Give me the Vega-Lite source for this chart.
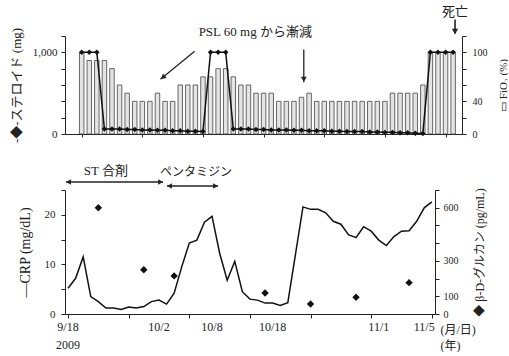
{
  "$schema": "https://vega.github.io/schema/vega-lite/v6.json",
  "padding": {"left": 10, "top": 5, "right": 0, "bottom": 0},
  "bounds": "flush",
  "spacing": 56,
  "config": {
    "view": {"stroke": null},
    "font": "Liberation Serif",
    "axis": {"grid": false, "domainColor": "#222", "tickColor": "#222", "labelColor": "#222", "titleColor": "#222", "titleFontWeight": "normal", "labelFont": "Liberation Serif", "titleFont": "Liberation Serif, Noto Sans CJK JP", "tickSize": 4, "labelOverlap": false, "labelBound": false, "labelFlush": false}
  },
  "datasets": {
    "top": [
      {"i": 0, "fio2": 100, "steroid": 1000}, {"i": 1, "fio2": 90, "steroid": 1000}, {"i": 2, "fio2": 90, "steroid": 1000},
      {"i": 3, "fio2": 90, "steroid": 60}, {"i": 4, "fio2": 80, "steroid": 60}, {"i": 5, "fio2": 60, "steroid": 60},
      {"i": 6, "fio2": 50, "steroid": 55}, {"i": 7, "fio2": 40, "steroid": 55}, {"i": 8, "fio2": 40, "steroid": 50},
      {"i": 9, "fio2": 40, "steroid": 50}, {"i": 10, "fio2": 50, "steroid": 45}, {"i": 11, "fio2": 40, "steroid": 45},
      {"i": 12, "fio2": 40, "steroid": 40}, {"i": 13, "fio2": 60, "steroid": 40}, {"i": 14, "fio2": 60, "steroid": 35},
      {"i": 15, "fio2": 60, "steroid": 35}, {"i": 16, "fio2": 70, "steroid": 30}, {"i": 17, "fio2": 70, "steroid": 1000},
      {"i": 18, "fio2": 80, "steroid": 1000}, {"i": 19, "fio2": 80, "steroid": 1000}, {"i": 20, "fio2": 70, "steroid": 60},
      {"i": 21, "fio2": 60, "steroid": 60}, {"i": 22, "fio2": 60, "steroid": 60}, {"i": 23, "fio2": 50, "steroid": 55},
      {"i": 24, "fio2": 50, "steroid": 55}, {"i": 25, "fio2": 50, "steroid": 50}, {"i": 26, "fio2": 40, "steroid": 50},
      {"i": 27, "fio2": 40, "steroid": 50}, {"i": 28, "fio2": 40, "steroid": 45}, {"i": 29, "fio2": 45, "steroid": 45},
      {"i": 30, "fio2": 50, "steroid": 40}, {"i": 31, "fio2": 40, "steroid": 40}, {"i": 32, "fio2": 40, "steroid": 40},
      {"i": 33, "fio2": 40, "steroid": 35}, {"i": 34, "fio2": 40, "steroid": 35}, {"i": 35, "fio2": 40, "steroid": 30},
      {"i": 36, "fio2": 40, "steroid": 30}, {"i": 37, "fio2": 40, "steroid": 30}, {"i": 38, "fio2": 40, "steroid": 25},
      {"i": 39, "fio2": 40, "steroid": 25}, {"i": 40, "fio2": 40, "steroid": 20}, {"i": 41, "fio2": 50, "steroid": 20},
      {"i": 42, "fio2": 50, "steroid": 15}, {"i": 43, "fio2": 50, "steroid": 15}, {"i": 44, "fio2": 50, "steroid": 10},
      {"i": 45, "fio2": 60, "steroid": 5}, {"i": 46, "fio2": 100, "steroid": 1000}, {"i": 47, "fio2": 100, "steroid": 1000},
      {"i": 48, "fio2": 100, "steroid": 1000}, {"i": 49, "fio2": 100, "steroid": 1000}
    ],
    "crp": [
      {"day": 0, "crp": 5.2}, {"day": 1, "crp": 7.2}, {"day": 2, "crp": 11.5}, {"day": 3, "crp": 3.5}, {"day": 4, "crp": 2.5},
      {"day": 5, "crp": 1.2}, {"day": 6, "crp": 1.2}, {"day": 7, "crp": 0.9}, {"day": 8, "crp": 1.4}, {"day": 9, "crp": 1.2},
      {"day": 10, "crp": 1.5}, {"day": 11, "crp": 2.5}, {"day": 12, "crp": 2.8}, {"day": 13, "crp": 2.0}, {"day": 14, "crp": 4.2},
      {"day": 15, "crp": 9.5}, {"day": 16, "crp": 14.3}, {"day": 17, "crp": 14.9}, {"day": 18, "crp": 18.5}, {"day": 19, "crp": 19.7},
      {"day": 20, "crp": 12.3}, {"day": 21, "crp": 6.8}, {"day": 22, "crp": 10.6}, {"day": 23, "crp": 4.5}, {"day": 24, "crp": 3.0},
      {"day": 25, "crp": 2.8}, {"day": 26, "crp": 2.2}, {"day": 27, "crp": 2.2}, {"day": 28, "crp": 1.7}, {"day": 29, "crp": 2.3},
      {"day": 31, "crp": 21.6}, {"day": 32, "crp": 21.1}, {"day": 33, "crp": 21.1}, {"day": 34, "crp": 20.4}, {"day": 35, "crp": 18.7},
      {"day": 36, "crp": 18.1}, {"day": 37, "crp": 16.0}, {"day": 38, "crp": 15.4}, {"day": 39, "crp": 17.6}, {"day": 40, "crp": 16.7},
      {"day": 41, "crp": 14.9}, {"day": 42, "crp": 13.8}, {"day": 43, "crp": 15.6}, {"day": 44, "crp": 16.7}, {"day": 45, "crp": 16.8},
      {"day": 46, "crp": 18.7}, {"day": 47, "crp": 21.4}, {"day": 48, "crp": 22.6}
    ],
    "bdg": [
      {"day": 4, "bdg": 600}, {"day": 10, "bdg": 250}, {"day": 14, "bdg": 215}, {"day": 26, "bdg": 119},
      {"day": 32, "bdg": 56}, {"day": 38, "bdg": 95}, {"day": 45, "bdg": 177}
    ],
    "dates": [
      {"day": 0, "date": "9/18"}, {"day": 12, "date": "10/2"}, {"day": 19, "date": "10/8"},
      {"day": 27, "date": "10/18"}, {"day": 41, "date": "11/1"}, {"day": 47, "date": "11/5"}
    ]
  },
  "vconcat": [
    {
      "width": 397,
      "height": 98,
      "data": {"name": "top"},
      "layer": [
        {
          "mark": {"type": "bar", "width": 4.5, "fill": "#e4e4e4", "stroke": "#444", "strokeWidth": 0.8},
          "encoding": {
            "x": {"field": "i", "type": "quantitative", "scale": {"domain": [-1.54, 49.51], "nice": false, "zero": false},
                  "axis": {"values": [0,1,2,3,4,5,6,7,8,9,10,11,12,13,14,15,16,17,18,19,20,21,22,23,24,25,26,27,28,29,30,31,32,33,34,35,36,37,38,39,40,41,42,43,44,45,46,47,48,49], "labels": false, "tickSize": 3, "title": null}},
            "y": {"field": "fio2", "type": "quantitative", "scale": {"domain": [0, 120], "nice": false},
                  "axis": {"orient": "right", "values": [0, 20, 40, 60, 80, 100, 120], "labelOverlap": false, "labelExpr": "datum.value==0||datum.value==40||datum.value==100 ? datum.label : ''", "labelFontSize": 10, "labelPadding": 6, "title": "▭ FiO₂ (%)", "titleAngle": -90, "titleBaseline": "top", "titleFontSize": 11, "titlePadding": 10}}
          }
        },
        {
          "mark": {"type": "line", "color": "#111", "strokeWidth": 1.5, "point": {"filled": true, "shape": "diamond", "size": 30, "color": "#111"}},
          "encoding": {
            "x": {"field": "i", "type": "quantitative", "scale": {"domain": [-1.54, 49.51], "nice": false, "zero": false}},
            "y": {"field": "steroid", "type": "quantitative", "scale": {"domain": [0, 1200], "nice": false},
                  "axis": {"orient": "left", "values": [0, 200, 400, 600, 800, 1000, 1200], "labelOverlap": false, "labelExpr": "datum.value==0 ? '0' : datum.value==1000 ? '1,000' : ''", "labelFontSize": 11, "labelPadding": 4, "title": "-◆-ステロイド (mg)", "titleFontSize": 13, "titlePadding": 9}}
          }
        },
        {
          "data": {"values": [{}]},
          "mark": {"type": "text", "text": "PSL 60 mg から漸減", "fontSize": 13, "font": "Liberation Serif, Noto Sans CJK JP", "color": "#222"},
          "encoding": {
            "x": {"datum": 22.9, "type": "quantitative", "scale": {"domain": [-1.54, 49.51], "nice": false, "zero": false}},
            "y": {"datum": 1245, "type": "quantitative", "scale": {"domain": [0, 1200], "nice": false}, "axis": null}
          }
        },
        {
          "data": {"values": [{}]},
          "mark": {"type": "rule", "color": "#222", "strokeWidth": 1.3},
          "encoding": {
            "x": {"datum": 14.9, "type": "quantitative", "scale": {"domain": [-1.54, 49.51], "nice": false, "zero": false}},
            "x2": {"datum": 10.4},
            "y": {"datum": 1012, "type": "quantitative", "scale": {"domain": [0, 1200], "nice": false}, "axis": null},
            "y2": {"datum": 670}
          }
        },
        {
          "data": {"values": [{}]},
          "mark": {"type": "point", "shape": "triangle-up", "filled": true, "size": 35, "angle": 231.3, "color": "#222", "opacity": 1},
          "encoding": {
            "x": {"datum": 10.71, "type": "quantitative", "scale": {"domain": [-1.54, 49.51], "nice": false, "zero": false}},
            "y": {"datum": 694, "type": "quantitative", "scale": {"domain": [0, 1200], "nice": false}, "axis": null}
          }
        },
        {
          "data": {"values": [{}]},
          "mark": {"type": "rule", "color": "#222", "strokeWidth": 1.3},
          "encoding": {
            "x": {"datum": 29.3, "type": "quantitative", "scale": {"domain": [-1.54, 49.51], "nice": false, "zero": false}},
            "y": {"datum": 1036, "type": "quantitative", "scale": {"domain": [0, 1200], "nice": false}, "axis": null},
            "y2": {"datum": 634}
          }
        },
        {
          "data": {"values": [{}]},
          "mark": {"type": "point", "shape": "triangle-down", "filled": true, "size": 35, "color": "#222", "opacity": 1},
          "encoding": {
            "x": {"datum": 29.3, "type": "quantitative", "scale": {"domain": [-1.54, 49.51], "nice": false, "zero": false}},
            "y": {"datum": 671, "type": "quantitative", "scale": {"domain": [0, 1200], "nice": false}, "axis": null}
          }
        },
        {
          "data": {"values": [{}]},
          "mark": {"type": "text", "text": "死亡", "fontSize": 13, "font": "Noto Sans CJK JP", "color": "#222"},
          "encoding": {
            "x": {"datum": 49.25, "type": "quantitative", "scale": {"domain": [-1.54, 49.51], "nice": false, "zero": false}},
            "y": {"datum": 1500, "type": "quantitative", "scale": {"domain": [0, 1200], "nice": false}, "axis": null}
          }
        },
        {
          "data": {"values": [{}]},
          "mark": {"type": "rule", "color": "#222", "strokeWidth": 1.6},
          "encoding": {
            "x": {"datum": 49.25, "type": "quantitative", "scale": {"domain": [-1.54, 49.51], "nice": false, "zero": false}},
            "y": {"datum": 1402, "type": "quantitative", "scale": {"domain": [0, 1200], "nice": false}, "axis": null},
            "y2": {"datum": 1230}
          }
        },
        {
          "data": {"values": [{}]},
          "mark": {"type": "point", "shape": "triangle-down", "filled": true, "size": 40, "color": "#222", "opacity": 1},
          "encoding": {
            "x": {"datum": 49.25, "type": "quantitative", "scale": {"domain": [-1.54, 49.51], "nice": false, "zero": false}},
            "y": {"datum": 1256, "type": "quantitative", "scale": {"domain": [0, 1200], "nice": false}, "axis": null}
          }
        }
      ],
      "resolve": {"scale": {"y": "independent"}}
    },
    {
      "width": 370,
      "height": 124,
      "layer": [
        {
          "data": {"name": "crp"},
          "mark": {"type": "line", "color": "#111", "strokeWidth": 1.5},
          "encoding": {
            "x": {"field": "day", "type": "quantitative", "scale": {"domain": [-0.4, 48.42], "nice": false, "zero": false},
                  "axis": {"values": [0,1,2,3,4,5,6,7,8,9,10,11,12,13,14,15,16,17,18,19,20,21,22,23,24,25,26,27,28,29,30,31,32,33,34,35,36,37,38,39,40,41,42,43,44,45,46,47,48],
                           "labels": false,
                           "title": ["(月/日)", "(年)"], "titleX": 375, "titleY": 10, "titleAlign": "left", "titleBaseline": "top", "titleFontSize": 12, "titleLineHeight": 16}},
            "y": {"field": "crp", "type": "quantitative", "scale": {"domain": [0, 25], "nice": false},
                  "axis": {"orient": "left", "values": [0, 5, 10, 15, 20, 25], "labelOverlap": false, "labelExpr": "datum.value==0||datum.value==10||datum.value==20 ? datum.label : ''", "labelFontSize": 11, "labelPadding": 6, "title": "—CRP (mg/dL)", "titleFontSize": 14, "titlePadding": 12}}
          }
        },
        {
          "data": {"name": "bdg"},
          "mark": {"type": "point", "shape": "diamond", "filled": true, "size": 55, "color": "#111", "opacity": 1},
          "encoding": {
            "x": {"field": "day", "type": "quantitative", "scale": {"domain": [-0.4, 48.42], "nice": false, "zero": false}},
            "y": {"field": "bdg", "type": "quantitative", "scale": {"domain": [0, 700], "nice": false},
                  "axis": {"orient": "right", "values": [0, 100, 200, 300, 400, 500, 600, 700], "labelOverlap": false, "labelExpr": "datum.value==0||datum.value==100||datum.value==300||datum.value==600 ? datum.label : ''", "labelFontSize": 10, "labelPadding": 4, "title": "◆ β-D-グルカン (pg/mL)", "titleAngle": -90, "titleBaseline": "top", "titleFontSize": 12, "titlePadding": 16}}
          }
        },
        {
          "data": {"name": "dates"},
          "mark": {"type": "text", "fontSize": 12, "font": "Liberation Serif", "color": "#222"},
          "encoding": {
            "x": {"field": "day", "type": "quantitative", "scale": {"domain": [-0.4, 48.42], "nice": false, "zero": false}},
            "y": {"datum": -2.7, "type": "quantitative", "scale": {"domain": [0, 25], "nice": false}, "axis": null},
            "text": {"field": "date"}
          }
        },
        {
          "data": {"values": [{}]},
          "mark": {"type": "text", "text": "2009", "fontSize": 12, "font": "Liberation Serif", "color": "#222"},
          "encoding": {
            "x": {"datum": 0, "type": "quantitative", "scale": {"domain": [-0.4, 48.42], "nice": false, "zero": false}},
            "y": {"datum": -6.3, "type": "quantitative", "scale": {"domain": [0, 25], "nice": false}, "axis": null}
          }
        },
        {
          "data": {"values": [{}]},
          "mark": {"type": "text", "text": "ST 合剤", "fontSize": 13, "font": "Liberation Serif, Noto Sans CJK JP", "color": "#222"},
          "encoding": {
            "x": {"datum": 5.0, "type": "quantitative", "scale": {"domain": [-0.4, 48.42], "nice": false, "zero": false}},
            "y": {"datum": 28.8, "type": "quantitative", "scale": {"domain": [0, 25], "nice": false}, "axis": null}
          }
        },
        {
          "data": {"values": [{}]},
          "mark": {"type": "rule", "color": "#222", "strokeWidth": 1.5},
          "encoding": {
            "x": {"datum": -0.26, "type": "quantitative", "scale": {"domain": [-0.4, 48.42], "nice": false, "zero": false}},
            "x2": {"datum": 12.53},
            "y": {"datum": 26.6, "type": "quantitative", "scale": {"domain": [0, 25], "nice": false}, "axis": null}
          }
        },
        {
          "data": {"values": [{}]},
          "mark": {"type": "point", "shape": "triangle-left", "filled": true, "size": 30, "color": "#222", "opacity": 1},
          "encoding": {
            "x": {"datum": 0.07, "type": "quantitative", "scale": {"domain": [-0.4, 48.42], "nice": false, "zero": false}},
            "y": {"datum": 26.6, "type": "quantitative", "scale": {"domain": [0, 25], "nice": false}, "axis": null}
          }
        },
        {
          "data": {"values": [{}]},
          "mark": {"type": "point", "shape": "triangle-right", "filled": true, "size": 30, "color": "#222", "opacity": 1},
          "encoding": {
            "x": {"datum": 12.2, "type": "quantitative", "scale": {"domain": [-0.4, 48.42], "nice": false, "zero": false}},
            "y": {"datum": 26.6, "type": "quantitative", "scale": {"domain": [0, 25], "nice": false}, "axis": null}
          }
        },
        {
          "data": {"values": [{}]},
          "mark": {"type": "text", "text": "ペンタミジン", "fontSize": 12, "font": "Noto Sans CJK JP", "color": "#222"},
          "encoding": {
            "x": {"datum": 16.9, "type": "quantitative", "scale": {"domain": [-0.4, 48.42], "nice": false, "zero": false}},
            "y": {"datum": 28.6, "type": "quantitative", "scale": {"domain": [0, 25], "nice": false}, "axis": null}
          }
        },
        {
          "data": {"values": [{}]},
          "mark": {"type": "rule", "color": "#222", "strokeWidth": 1.5},
          "encoding": {
            "x": {"datum": 13.06, "type": "quantitative", "scale": {"domain": [-0.4, 48.42], "nice": false, "zero": false}},
            "x2": {"datum": 19.79},
            "y": {"datum": 25.8, "type": "quantitative", "scale": {"domain": [0, 25], "nice": false}, "axis": null}
          }
        },
        {
          "data": {"values": [{}]},
          "mark": {"type": "point", "shape": "triangle-left", "filled": true, "size": 30, "color": "#222", "opacity": 1},
          "encoding": {
            "x": {"datum": 13.39, "type": "quantitative", "scale": {"domain": [-0.4, 48.42], "nice": false, "zero": false}},
            "y": {"datum": 25.8, "type": "quantitative", "scale": {"domain": [0, 25], "nice": false}, "axis": null}
          }
        },
        {
          "data": {"values": [{}]},
          "mark": {"type": "point", "shape": "triangle-right", "filled": true, "size": 30, "color": "#222", "opacity": 1},
          "encoding": {
            "x": {"datum": 19.46, "type": "quantitative", "scale": {"domain": [-0.4, 48.42], "nice": false, "zero": false}},
            "y": {"datum": 25.8, "type": "quantitative", "scale": {"domain": [0, 25], "nice": false}, "axis": null}
          }
        }
      ],
      "resolve": {"scale": {"y": "independent"}}
    }
  ]
}
